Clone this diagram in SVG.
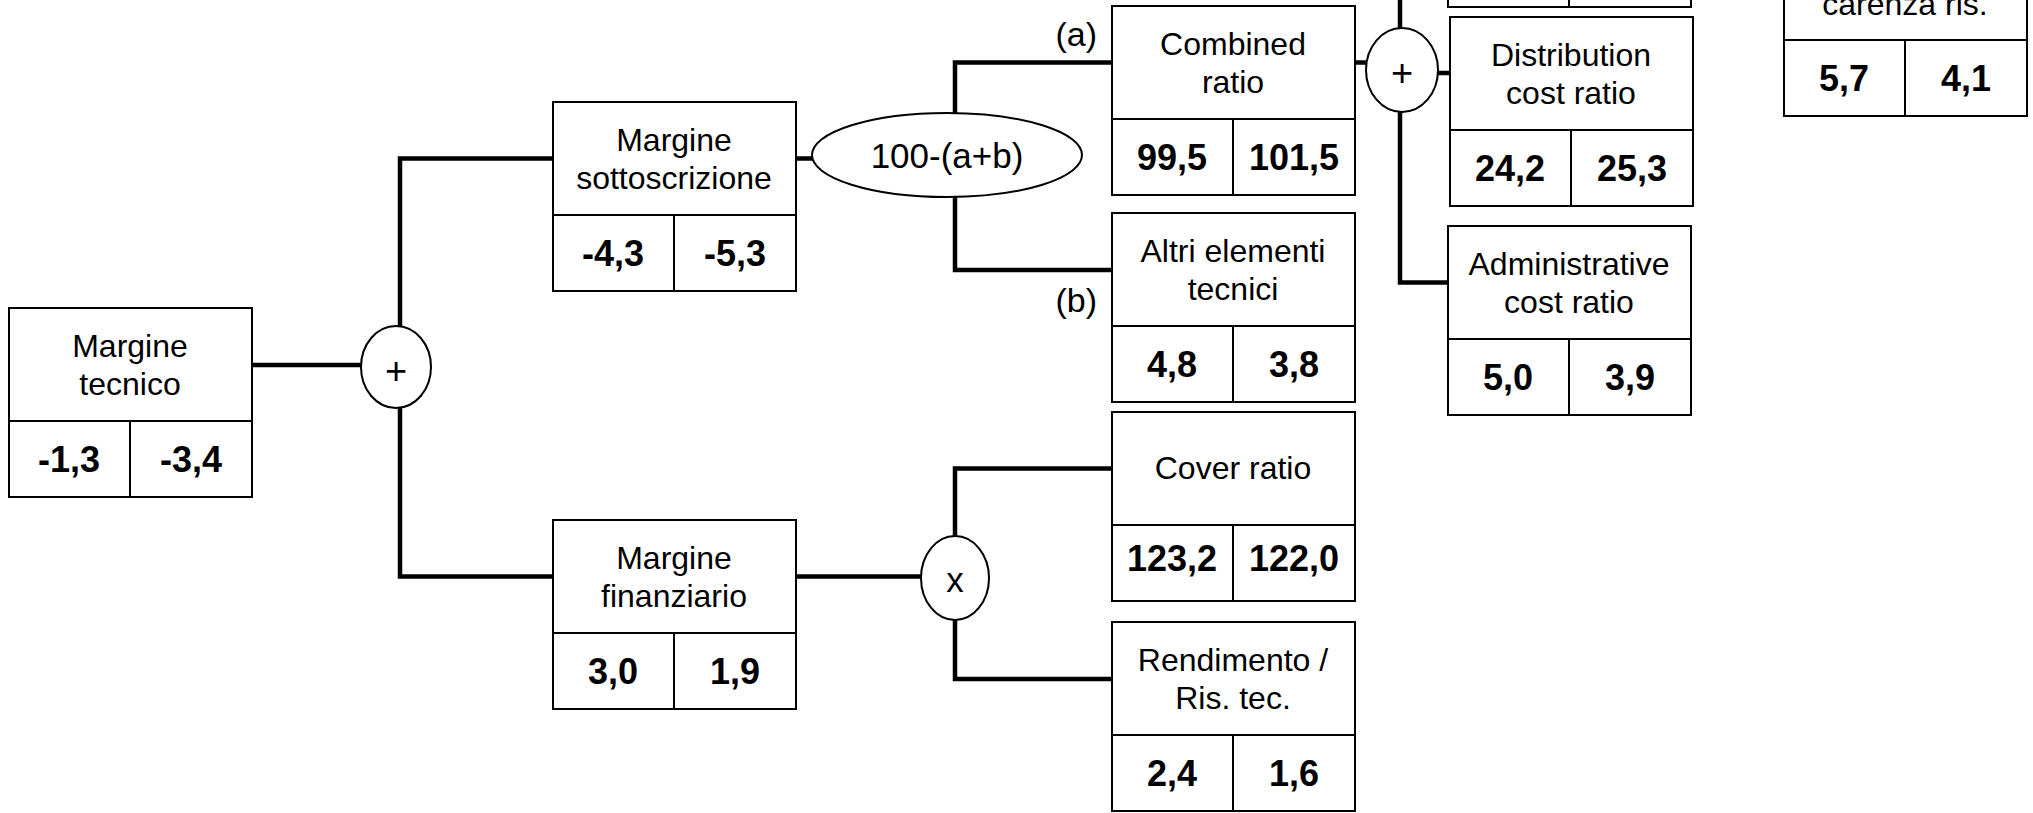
<svg xmlns="http://www.w3.org/2000/svg" width="2033" height="813" viewBox="0 0 2033 813">
<style>
.bx{fill:#fff;stroke:#000;stroke-width:2}
.dv{stroke:#000;stroke-width:2}
.op{fill:#fff;stroke:#000;stroke-width:2}
.cn{fill:none;stroke:#000;stroke-width:4.5}
.h{font-family:"Liberation Sans",Arial,sans-serif;font-size:32px;text-anchor:middle;fill:#000}
.v{font-family:"Liberation Sans",Arial,sans-serif;font-size:36px;font-weight:bold;text-anchor:middle;fill:#000}
.sym{font-family:"Liberation Sans",Arial,sans-serif;font-size:38px;text-anchor:middle;fill:#000}
.lb{font-family:"Liberation Sans",Arial,sans-serif;font-size:34px;text-anchor:end;fill:#000}
</style>
<defs>
<g id="frame">
<rect class="bx" x="0" y="0" width="243" height="189"/>
<line class="dv" x1="0" y1="113" x2="243" y2="113"/>
<line class="dv" x1="121" y1="113" x2="121" y2="189"/>
</g>
</defs>
<rect width="2033" height="813" fill="#fff"/>
<g id="connectors">
<line class="cn" x1="252" y1="365" x2="400" y2="365"/>
<polyline class="cn" points="553,158.5 400,158.5 400,576.5 553,576.5"/>
<line class="cn" x1="796" y1="158.5" x2="830" y2="158.5"/>
<polyline class="cn" points="1112,62.5 955,62.5 955,270 1112,270"/>
<line class="cn" x1="796" y1="576.5" x2="940" y2="576.5"/>
<polyline class="cn" points="1112,468.5 955,468.5 955,679 1112,679"/>
<line class="cn" x1="1354" y1="62.5" x2="1400" y2="62.5"/>
<polyline class="cn" points="1400,-10 1400,282.5 1448,282.5"/>
<line class="cn" x1="1400" y1="73" x2="1450" y2="73"/>
</g>
<g id="op-plus1">
<ellipse class="op" cx="396" cy="367" rx="35" ry="41"/>
<text class="sym" x="396" y="384">+</text>
</g>
<g id="op-diff">
<ellipse class="op" cx="947" cy="155" rx="135" ry="42"/>
<text class="h" x="947" y="168" style="font-size:35px">100-(a+b)</text>
</g>
<g id="op-times">
<ellipse class="op" cx="955" cy="578" rx="34" ry="42"/>
<text class="h" x="955" y="592" style="font-size:35px">x</text>
</g>
<g id="op-plus2">
<ellipse class="op" cx="1402" cy="70" rx="36" ry="42"/>
<text class="sym" x="1402" y="86">+</text>
</g>
<g id="margine-tecnico" transform="translate(9,308)">
<use href="#frame"/>
<text class="h" x="121" y="49">Margine</text>
<text class="h" x="121" y="87">tecnico</text>
<text class="v" x="60" y="164">-1,3</text>
<text class="v" x="182" y="164">-3,4</text>
</g>
<g id="margine-sottoscrizione" transform="translate(553,102)">
<use href="#frame"/>
<text class="h" x="121" y="49">Margine</text>
<text class="h" x="121" y="87">sottoscrizione</text>
<text class="v" x="60" y="164">-4,3</text>
<text class="v" x="182" y="164">-5,3</text>
</g>
<g id="margine-finanziario" transform="translate(553,520)">
<use href="#frame"/>
<text class="h" x="121" y="49">Margine</text>
<text class="h" x="121" y="87">finanziario</text>
<text class="v" x="60" y="164">3,0</text>
<text class="v" x="182" y="164">1,9</text>
</g>
<g id="combined-ratio" transform="translate(1112,6)">
<use href="#frame"/>
<text class="h" x="121" y="49">Combined</text>
<text class="h" x="121" y="87">ratio</text>
<text class="v" x="60" y="164">99,5</text>
<text class="v" x="182" y="164">101,5</text>
</g>
<g id="altri-elementi" transform="translate(1112,213)">
<use href="#frame"/>
<text class="h" x="121" y="49">Altri elementi</text>
<text class="h" x="121" y="87">tecnici</text>
<text class="v" x="60" y="164">4,8</text>
<text class="v" x="182" y="164">3,8</text>
</g>
<g id="cover-ratio" transform="translate(1112,412)">
<use href="#frame"/>
<text class="h" x="121" y="67">Cover ratio</text>
<text class="v" x="60" y="159">123,2</text>
<text class="v" x="182" y="159">122,0</text>
</g>
<g id="rendimento" transform="translate(1112,622)">
<use href="#frame"/>
<text class="h" x="121" y="49">Rendimento /</text>
<text class="h" x="121" y="87">Ris. tec.</text>
<text class="v" x="60" y="164">2,4</text>
<text class="v" x="182" y="164">1,6</text>
</g>
<g id="top-box" transform="translate(1448,-182)">
<use href="#frame"/>
</g>
<g id="distribution-cost" transform="translate(1450,17)">
<use href="#frame"/>
<text class="h" x="121" y="49">Distribution</text>
<text class="h" x="121" y="87">cost ratio</text>
<text class="v" x="60" y="164">24,2</text>
<text class="v" x="182" y="164">25,3</text>
</g>
<g id="administrative-cost" transform="translate(1448,226)">
<use href="#frame"/>
<text class="h" x="121" y="49">Administrative</text>
<text class="h" x="121" y="87">cost ratio</text>
<text class="v" x="60" y="164">5,0</text>
<text class="v" x="182" y="164">3,9</text>
</g>
<g id="carenza" transform="translate(1784,-73)">
<use href="#frame"/>
<text class="h" x="121" y="88">carenza ris.</text>
<text class="v" x="60" y="164">5,7</text>
<text class="v" x="182" y="164">4,1</text>
</g>
<g id="labels">
<text class="lb" x="1097" y="46">(a)</text>
<text class="lb" x="1097" y="312">(b)</text>
</g>
</svg>
